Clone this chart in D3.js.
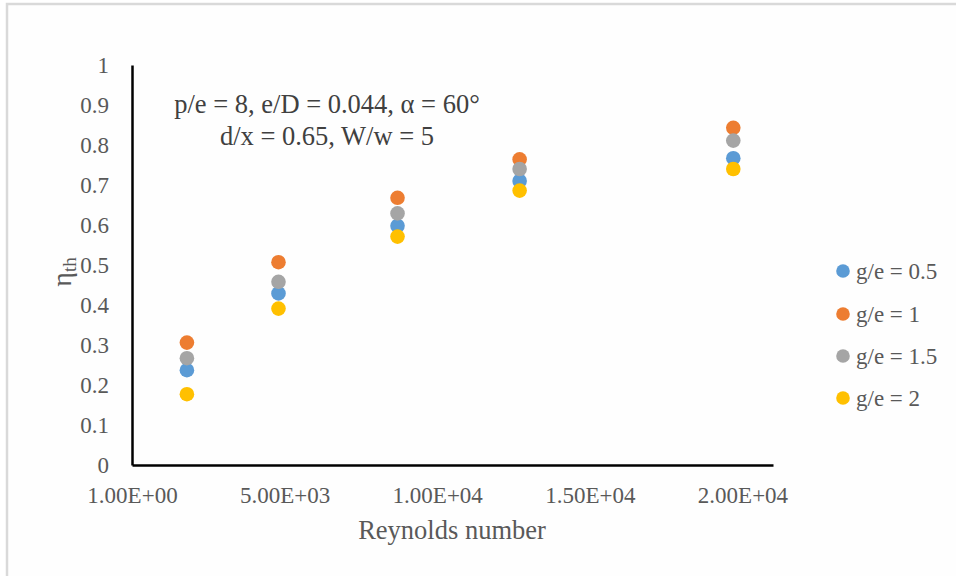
<!DOCTYPE html>
<html>
<head>
<meta charset="utf-8">
<script src="https://cdn.jsdelivr.net/npm/d3@7"></script>
<style>
  html, body { margin: 0; padding: 0; background: #ffffff; }
  svg text { font-family: "Liberation Serif", "DejaVu Serif", serif; }
</style>
</head>
<body>
<svg id="chart" width="956" height="576"></svg>
<script>
// ---- data ----
const reynolds = [1800, 4800, 8700, 12700, 19700];
const seriesNames = ["g/e = 0.5", "g/e = 1", "g/e = 1.5", "g/e = 2"];
const ge05 = [0.237, 0.429, 0.598, 0.710, 0.767];
const ge1  = [0.306, 0.507, 0.668, 0.764, 0.843];
const ge15 = [0.267, 0.458, 0.629, 0.740, 0.811];
const ge2  = [0.177, 0.391, 0.571, 0.686, 0.740];
const seriesColors = ["#5B9BD5", "#ED7D31", "#A5A5A5", "#FFC000"];
const xTickValues = [1, 5001, 10001, 15001, 20001];
const xTickLabels = ["1.00E+00", "5.00E+03", "1.00E+04", "1.50E+04", "2.00E+04"];
const yTickValues = [0, 0.1, 0.2, 0.3, 0.4, 0.5, 0.6, 0.7, 0.8, 0.9, 1];
const yTickLabels = ["0", "0.1", "0.2", "0.3", "0.4", "0.5", "0.6", "0.7", "0.8", "0.9", "1"];
const annotationLines = ["p/e = 8, e/D = 0.044, \u03B1 = 60\u00B0", "d/x = 0.65, W/w = 5"];

const series = [ge05, ge1, ge15, ge2].map((vals, i) => ({
  name: seriesNames[i], color: seriesColors[i],
  points: vals.map((v, j) => ({ x: reynolds[j], y: v }))
}));

const svg = d3.select("#chart");

// outer frame
svg.append("rect").attr("x", 7).attr("y", 4).attr("width", 960).attr("height", 600)
  .attr("fill", "#fefefe").attr("stroke", "#d9d9d9").attr("stroke-width", 2.5);

const x = d3.scaleLinear().domain([1, 21001]).range([132, 773]);
const y = d3.scaleLinear().domain([0, 1]).range([465, 65]);

const textColor = "#595959";

// y axis
const yAxis = svg.append("g").attr("transform", "translate(132,0)")
  .call(d3.axisLeft(y).tickValues(yTickValues).tickFormat((d, i) => yTickLabels[i])
    .tickSize(0).tickPadding(23));
yAxis.select(".domain").attr("stroke", "#000").attr("stroke-width", 2.5);
yAxis.selectAll("text").attr("font-size", 23).attr("fill", textColor)
  .attr("font-family", "Liberation Serif, serif");

// x axis
const xAxis = svg.append("g").attr("transform", "translate(0,465)")
  .call(d3.axisBottom(x).tickValues(xTickValues).tickFormat((d, i) => xTickLabels[i])
    .tickSize(0).tickPadding(22));
xAxis.select(".domain").attr("stroke", "#000").attr("stroke-width", 2.5);
xAxis.selectAll("text").attr("font-size", 23).attr("fill", textColor)
  .attr("font-family", "Liberation Serif, serif");

// points
series.forEach(s => {
  svg.append("g").selectAll("circle").data(s.points).join("circle")
    .attr("cx", d => x(d.x)).attr("cy", d => y(d.y)).attr("r", 7.3)
    .attr("fill", s.color);
});

// annotation
svg.append("text").attr("x", 327).attr("y", 113).attr("text-anchor", "middle")
  .attr("font-size", 26.5).attr("fill", "#404040").text(annotationLines[0]);
svg.append("text").attr("x", 327).attr("y", 145).attr("text-anchor", "middle")
  .attr("font-size", 26.5).attr("fill", "#404040").text(annotationLines[1]);

// axis titles
svg.append("text").attr("x", 452).attr("y", 539).attr("text-anchor", "middle")
  .attr("font-size", 26.5).attr("fill", textColor).text("Reynolds number");

const yt = svg.append("text").attr("transform", "translate(71,272) rotate(-90)")
  .attr("text-anchor", "middle").attr("font-size", 28).attr("fill", textColor);
yt.append("tspan").text("\u03B7");
yt.append("tspan").attr("font-size", 19).attr("dy", 5).text("th");

// legend
const legendY = [271, 314, 356, 398];
const lg = svg.append("g").selectAll("g").data(series).join("g")
  .attr("transform", (d, i) => `translate(843,${legendY[i]})`);
lg.append("circle").attr("r", 6.8).attr("fill", d => d.color);
lg.append("text").attr("x", 13).attr("y", 8).attr("font-size", 23).attr("fill", textColor)
  .text(d => d.name);
</script>
</body>
</html>
